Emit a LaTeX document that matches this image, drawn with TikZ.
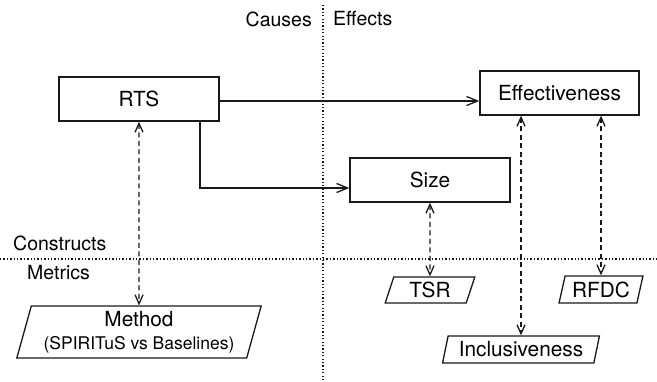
\documentclass[tikz,border=0pt]{standalone}
\usepackage{fontspec}
\setmainfont{TeX Gyre Heros}
\usetikzlibrary{arrows.meta,shapes.geometric}
\begin{document}
\begin{tikzpicture}[x=1pt,y=-1pt,
  txt/.style={font=\fontsize{20.8}{25}\selectfont},
  box/.style={txt,draw=black!90,line width=1.4pt,minimum width=160pt,minimum height=44pt,inner sep=0pt},
  para/.style={txt,draw=black!90,line width=1.3pt,trapezium,trapezium left angle=73,trapezium right angle=107,trapezium stretches=true,inner sep=0pt},
  lbl/.style={font=\fontsize{19.5}{23}\selectfont,inner sep=0pt},
  flow/.style={draw=black!90,line width=1.3pt,-{Straight Barb[length=11pt,width=9pt,line width=1.3pt]}},
  meas/.style={draw=black!90,line width=1.4pt,dash pattern=on 5pt off 3.5pt,{Straight Barb[length=9pt,width=8pt,line width=1.3pt]}-{Straight Barb[length=9pt,width=8pt,line width=1.3pt]}},
  sep/.style={draw=black!90,line width=1.3pt,dash pattern=on 1.3pt off 2.1pt}]
\useasboundingbox (0,0) rectangle (657,382);
% separators
\coordinate (vtop) at (323,5);
\coordinate (vbot) at (323,382);
\coordinate (hl) at (0,259);
\coordinate (hr) at (657,259);
\draw[sep] (vtop) -- (vbot);
\draw[sep] (hl) -- (hr);
% labels
\node[lbl,anchor=east] (causes) at (312,19) {Causes};
\node[lbl,anchor=west] (effects) at (333,19) {Effects};
\node[lbl,anchor=west] (constructs) at (13,243) {Constructs};
\node[lbl,anchor=west] (metrics) at (27,273) {Metrics};
% constructs
\node[box] (rts) at (139,99) {RTS};
\node[box,minimum width=159pt] (eff) at (559.5,93) {Effectiveness};
\node[box] (size) at (430,180) {Size};
% metrics
\node[para,minimum width=245pt,minimum height=52pt,align=center] (method) at (139,332)
  {Method\\[-2pt]{\fontsize{17.5}{21}\selectfont(SPIRITuS vs Baselines)}};
\node[para,minimum width=90pt,minimum height=26pt] (tsr) at (430,290) {TSR};
\node[para,minimum width=84pt,minimum height=27pt] (rfdc) at (601,289.5) {RFDC};
\node[para,minimum width=157pt,minimum height=27pt] (incl) at (521,349.5) {Inclusiveness};
% causal arrows
\coordinate (rtsE) at ([yshift=-2pt]rts.east);
\draw[flow] (rtsE) -- (rtsE -| eff.west);
\coordinate (rtsS) at ([xshift=61pt]rts.south);
\coordinate (bend) at (rtsS |- 0,188);
\draw[flow] (rtsS) -- (bend) -- (bend -| size.west);
% measurement arrows
\draw[meas] (rts.south) -- (method.north);
\draw[meas] (size.south) -- (tsr.north);
\draw[meas] (incl.north |- eff.south) -- (incl.north);
\draw[meas] (rfdc.north |- eff.south) -- (rfdc.north);
\end{tikzpicture}
\end{document}
